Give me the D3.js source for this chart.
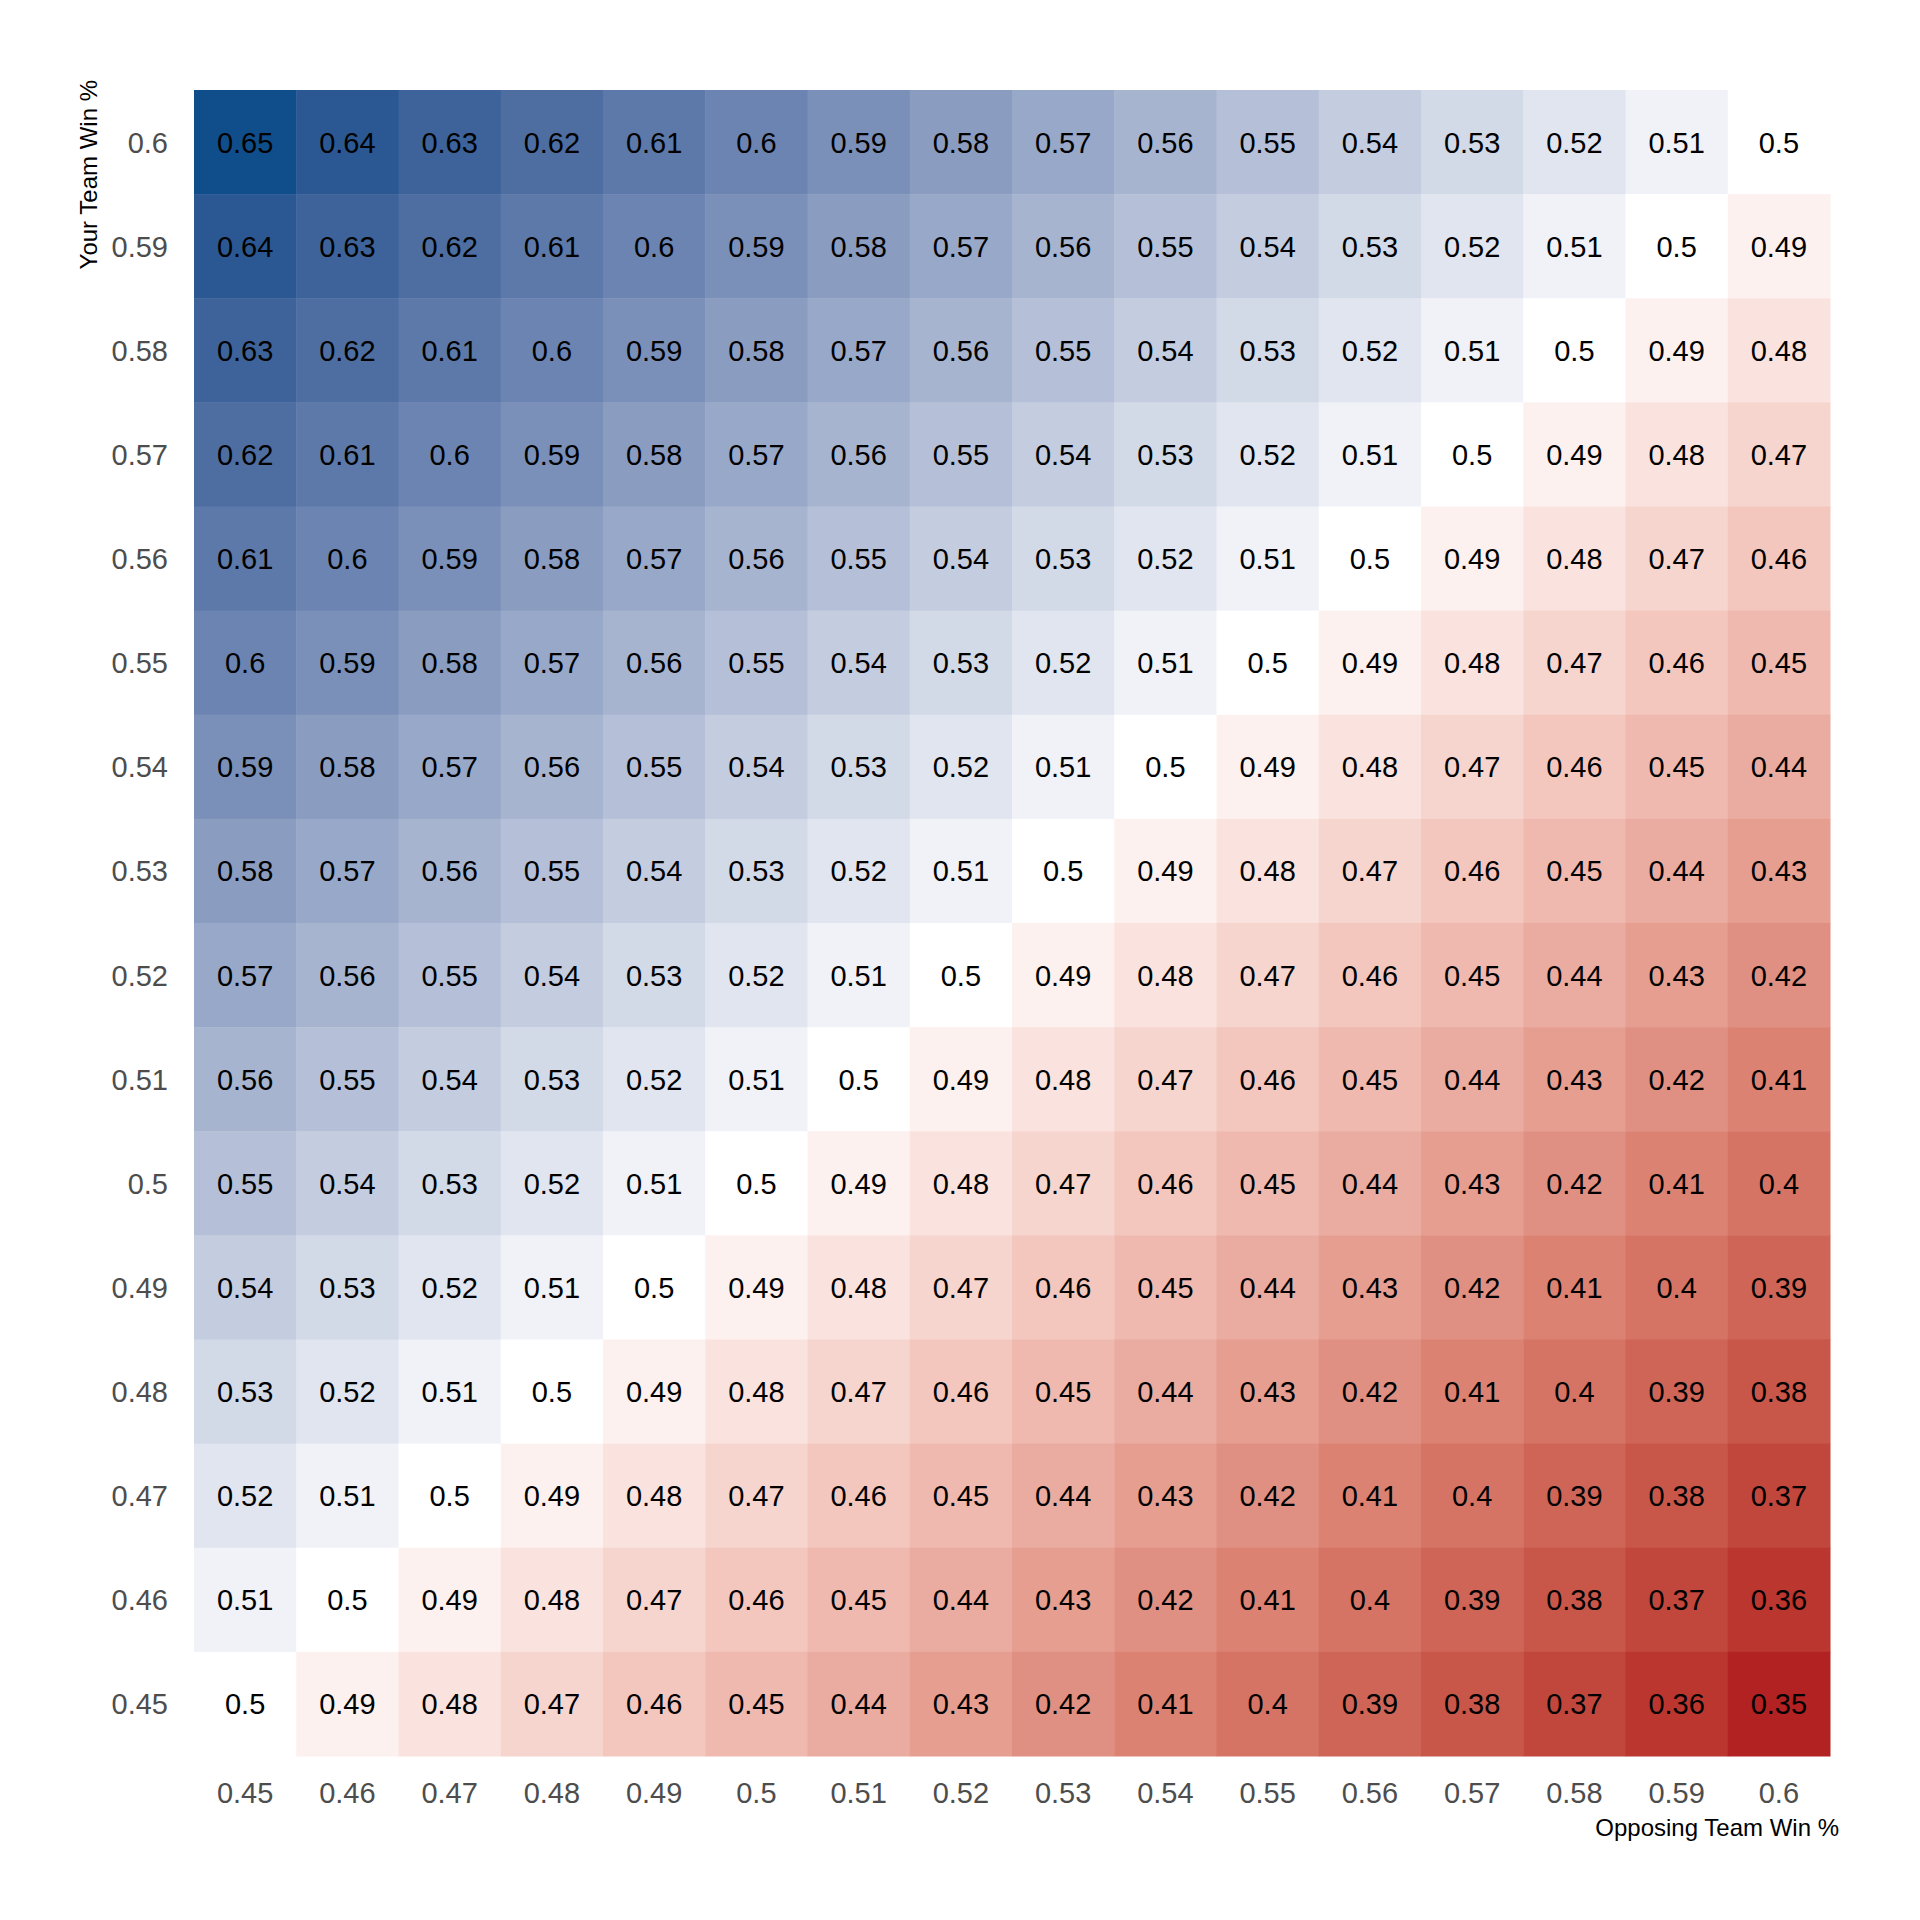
<!DOCTYPE html>
<html><head><meta charset="utf-8">
<script src="https://cdn.jsdelivr.net/npm/d3@7"></script>
<style>html,body{margin:0;padding:0;background:#fff;} svg{display:block;font-family:"Liberation Sans",Arial,sans-serif;}</style>
</head><body>
<script>
// Opposing team win % (columns)
const oppLabels = ["0.45","0.46","0.47","0.48","0.49","0.5","0.51","0.52","0.53","0.54","0.55","0.56","0.57","0.58","0.59","0.6"];
// Your team win % (rows, top to bottom)
const yourLabels = ["0.6","0.59","0.58","0.57","0.56","0.55","0.54","0.53","0.52","0.51","0.5","0.49","0.48","0.47","0.46","0.45"];
// Cell values, one row per yourLabels entry
const row060 = [0.65,0.64,0.63,0.62,0.61,0.6,0.59,0.58,0.57,0.56,0.55,0.54,0.53,0.52,0.51,0.5];
const row059 = [0.64,0.63,0.62,0.61,0.6,0.59,0.58,0.57,0.56,0.55,0.54,0.53,0.52,0.51,0.5,0.49];
const row058 = [0.63,0.62,0.61,0.6,0.59,0.58,0.57,0.56,0.55,0.54,0.53,0.52,0.51,0.5,0.49,0.48];
const row057 = [0.62,0.61,0.6,0.59,0.58,0.57,0.56,0.55,0.54,0.53,0.52,0.51,0.5,0.49,0.48,0.47];
const row056 = [0.61,0.6,0.59,0.58,0.57,0.56,0.55,0.54,0.53,0.52,0.51,0.5,0.49,0.48,0.47,0.46];
const row055 = [0.6,0.59,0.58,0.57,0.56,0.55,0.54,0.53,0.52,0.51,0.5,0.49,0.48,0.47,0.46,0.45];
const row054 = [0.59,0.58,0.57,0.56,0.55,0.54,0.53,0.52,0.51,0.5,0.49,0.48,0.47,0.46,0.45,0.44];
const row053 = [0.58,0.57,0.56,0.55,0.54,0.53,0.52,0.51,0.5,0.49,0.48,0.47,0.46,0.45,0.44,0.43];
const row052 = [0.57,0.56,0.55,0.54,0.53,0.52,0.51,0.5,0.49,0.48,0.47,0.46,0.45,0.44,0.43,0.42];
const row051 = [0.56,0.55,0.54,0.53,0.52,0.51,0.5,0.49,0.48,0.47,0.46,0.45,0.44,0.43,0.42,0.41];
const row050 = [0.55,0.54,0.53,0.52,0.51,0.5,0.49,0.48,0.47,0.46,0.45,0.44,0.43,0.42,0.41,0.4];
const row049 = [0.54,0.53,0.52,0.51,0.5,0.49,0.48,0.47,0.46,0.45,0.44,0.43,0.42,0.41,0.4,0.39];
const row048 = [0.53,0.52,0.51,0.5,0.49,0.48,0.47,0.46,0.45,0.44,0.43,0.42,0.41,0.4,0.39,0.38];
const row047 = [0.52,0.51,0.5,0.49,0.48,0.47,0.46,0.45,0.44,0.43,0.42,0.41,0.4,0.39,0.38,0.37];
const row046 = [0.51,0.5,0.49,0.48,0.47,0.46,0.45,0.44,0.43,0.42,0.41,0.4,0.39,0.38,0.37,0.36];
const row045 = [0.5,0.49,0.48,0.47,0.46,0.45,0.44,0.43,0.42,0.41,0.4,0.39,0.38,0.37,0.36,0.35];
const rows = [row060,row059,row058,row057,row056,row055,row054,row053,row052,row051,row050,row049,row048,row047,row046,row045];

const cells = [];
rows.forEach((r, i) => r.forEach((v, j) => cells.push({y: yourLabels[i], x: oppLabels[j], v})));

const W = 1920, H = 1920;
const mLeft = 194, mRight = 1830, mTop = 90, mBottom = 1756;

const svg = d3.select("body").append("svg").attr("width", W).attr("height", H);

const x = d3.scaleBand().domain(oppLabels).range([mLeft, mRight]).padding(0);
const y = d3.scaleBand().domain(yourLabels).range([mTop, mBottom]).padding(0);

const color = d3.scaleLinear()
  .domain([0.35, 0.5, 0.65])
  .range(["#B22222", "#FFFFFF", "#104E8B"])
  .interpolate(d3.interpolateLab)
  .clamp(true);

const g = svg.append("g");
g.selectAll("rect").data(cells).join("rect")
  .attr("x", d => x(d.x))
  .attr("y", d => y(d.y))
  .attr("width", x.bandwidth() + 0.5)
  .attr("height", y.bandwidth() + 0.5)
  .attr("fill", d => color(d.v));

g.selectAll("text.cell").data(cells).join("text")
  .attr("class", "cell")
  .attr("x", d => x(d.x) + x.bandwidth() / 2)
  .attr("y", d => y(d.y) + y.bandwidth() / 2)
  .attr("dy", "0.36em")
  .attr("text-anchor", "middle")
  .attr("font-size", 29)
  .attr("fill", "#000")
  .text(d => String(d.v));

// X axis
const xAxis = d3.axisBottom(x).tickSize(0).tickPadding(0);
const xg = svg.append("g").attr("transform", `translate(0,${mBottom})`).call(xAxis);
xg.select(".domain").remove();
xg.selectAll("text").attr("font-size", 29).attr("fill", "#4D4D4D")
  .attr("font-family", '"Liberation Sans",Arial,sans-serif')
  .attr("y", 47).attr("dy", 0);

// Y axis
const yAxis = d3.axisLeft(y).tickSize(0).tickPadding(0);
const yg = svg.append("g").attr("transform", `translate(${mLeft},0)`).call(yAxis);
yg.select(".domain").remove();
yg.selectAll("text").attr("font-size", 29).attr("fill", "#4D4D4D")
  .attr("font-family", '"Liberation Sans",Arial,sans-serif')
  .attr("x", -26).attr("dy", "0.36em");

// Axis titles
svg.append("text")
  .attr("x", 1839).attr("y", 1836)
  .attr("text-anchor", "end")
  .attr("font-size", 24).attr("fill", "#000")
  .text("Opposing Team Win %");

svg.append("text")
  .attr("transform", "translate(97,80) rotate(-90)")
  .attr("text-anchor", "end")
  .attr("font-size", 24).attr("fill", "#000")
  .text("Your Team Win %");
</script>
</body></html>
